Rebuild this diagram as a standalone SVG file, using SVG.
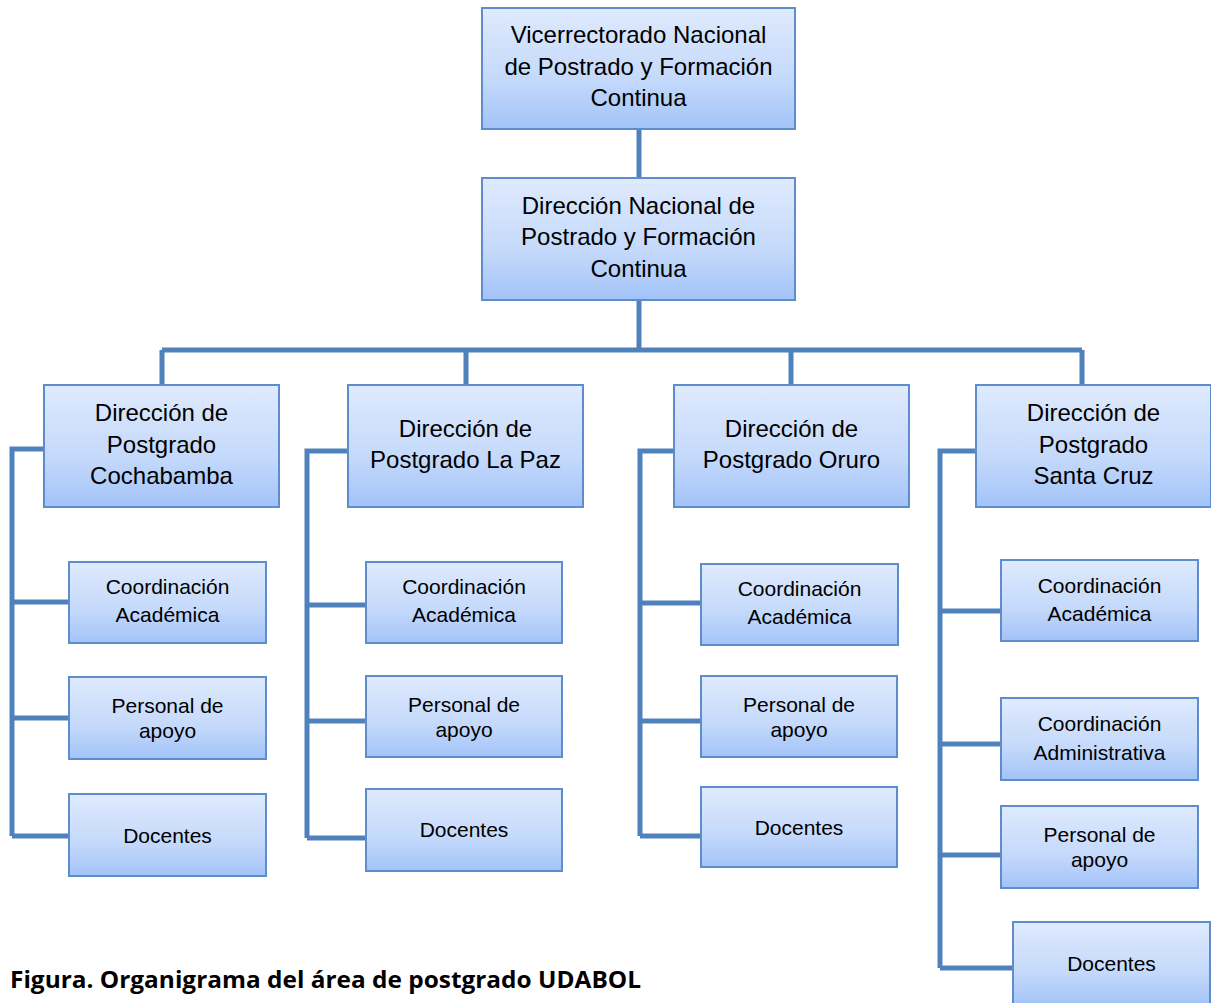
<svg xmlns="http://www.w3.org/2000/svg" width="1211" height="1003" viewBox="0 0 1211 1003">
<defs>
<linearGradient id="g" x1="0" y1="0" x2="0" y2="1">
<stop offset="0" stop-color="#dfeafd"/>
<stop offset="0.6" stop-color="#c4d9fb"/>
<stop offset="1" stop-color="#a2c3f8"/>
</linearGradient>
<style>
.b{fill:url(#g);stroke:#5f8ccc;stroke-width:2}
.t{font-family:"Liberation Sans",Arial,sans-serif;font-size:24px;fill:#000;text-anchor:middle}
.s{font-family:"Liberation Sans",Arial,sans-serif;font-size:21px;fill:#000;text-anchor:middle}
.c{fill:none;stroke:#4f81bd;stroke-width:5}
.cap{font-family:"Open Sans","Liberation Sans",sans-serif;font-weight:bold;font-size:24px;fill:#000}
</style>
</defs>
<rect width="1211" height="1003" fill="#fff"/>
<g id="connectors">
<path class="c" d="M639 129V178M639 300V350M162 350H1082M162 350V385M466 350V385M791 350V385M1082 350V385"/>
<path class="c" d="M44 449H12V836M12 602H69M12 718H69M12 836H69"/>
<path class="c" d="M348 451H307V838M307 605H366M307 721H366M307 838H366"/>
<path class="c" d="M674 451H640V836M640 603H701M640 721H701M640 836H701"/>
<path class="c" d="M976 451H940V968M940 611H1001M940 744H1001M940 855H1001M940 968H1013"/>
</g>
<g id="n1"><rect class="b" x="482" y="8" width="313" height="121"/><text class="t" x="638.5" y="43">Vicerrectorado Nacional</text><text class="t" x="638.5" y="75">de Postrado y Formación</text><text class="t" x="638.5" y="106">Continua</text></g>
<g id="n2"><rect class="b" x="482" y="178" width="313" height="122"/><text class="t" x="638.5" y="214">Dirección Nacional de</text><text class="t" x="638.5" y="245">Postrado y Formación</text><text class="t" x="638.5" y="277">Continua</text></g>
<g id="cbba"><rect class="b" x="44" y="385" width="235" height="122"/><text class="t" x="161.5" y="421">Dirección de</text><text class="t" x="161.5" y="453">Postgrado</text><text class="t" x="161.5" y="484">Cochabamba</text></g>
<g id="lpz"><rect class="b" x="348" y="385" width="235" height="122"/><text class="t" x="465.5" y="437">Dirección de</text><text class="t" x="465.5" y="468">Postgrado La Paz</text></g>
<g id="oru"><rect class="b" x="674" y="385" width="235" height="122"/><text class="t" x="791.5" y="437">Dirección de</text><text class="t" x="791.5" y="468">Postgrado Oruro</text></g>
<g id="scz"><rect class="b" x="976" y="385" width="235" height="122"/><text class="t" x="1093.5" y="421">Dirección de</text><text class="t" x="1093.5" y="453">Postgrado</text><text class="t" x="1093.5" y="484">Santa Cruz</text></g>
<g id="cbba-ca"><rect class="b" x="69" y="562" width="197" height="81"/><text class="s" x="167.5" y="594">Coordinación</text><text class="s" x="167.5" y="622">Académica</text></g>
<g id="cbba-pa"><rect class="b" x="69" y="677" width="197" height="82"/><text class="s" x="167.5" y="713">Personal de</text><text class="s" x="167.5" y="738">apoyo</text></g>
<g id="cbba-do"><rect class="b" x="69" y="794" width="197" height="82"/><text class="s" x="167.5" y="843">Docentes</text></g>
<g id="lpz-ca"><rect class="b" x="366" y="562" width="196" height="81"/><text class="s" x="464" y="594">Coordinación</text><text class="s" x="464" y="622">Académica</text></g>
<g id="lpz-pa"><rect class="b" x="366" y="676" width="196" height="81"/><text class="s" x="464" y="712">Personal de</text><text class="s" x="464" y="737">apoyo</text></g>
<g id="lpz-do"><rect class="b" x="366" y="789" width="196" height="82"/><text class="s" x="464" y="837">Docentes</text></g>
<g id="oru-ca"><rect class="b" x="701" y="564" width="197" height="81"/><text class="s" x="799.5" y="596">Coordinación</text><text class="s" x="799.5" y="624">Académica</text></g>
<g id="oru-pa"><rect class="b" x="701" y="676" width="196" height="81"/><text class="s" x="799" y="712">Personal de</text><text class="s" x="799" y="737">apoyo</text></g>
<g id="oru-do"><rect class="b" x="701" y="787" width="196" height="80"/><text class="s" x="799" y="835">Docentes</text></g>
<g id="scz-ca"><rect class="b" x="1001" y="560" width="197" height="81"/><text class="s" x="1099.5" y="593">Coordinación</text><text class="s" x="1099.5" y="621">Académica</text></g>
<g id="scz-cad"><rect class="b" x="1001" y="698" width="197" height="82"/><text class="s" x="1099.5" y="731">Coordinación</text><text class="s" x="1099.5" y="760">Administrativa</text></g>
<g id="scz-pa"><rect class="b" x="1001" y="806" width="197" height="82"/><text class="s" x="1099.5" y="842">Personal de</text><text class="s" x="1099.5" y="867">apoyo</text></g>
<g id="scz-do"><rect class="b" x="1013" y="922" width="197" height="84"/><text class="s" x="1111.5" y="971">Docentes</text></g>
<text class="cap" x="10" y="988" textLength="631" lengthAdjust="spacingAndGlyphs">Figura. Organigrama del área de postgrado UDABOL</text>
</svg>
